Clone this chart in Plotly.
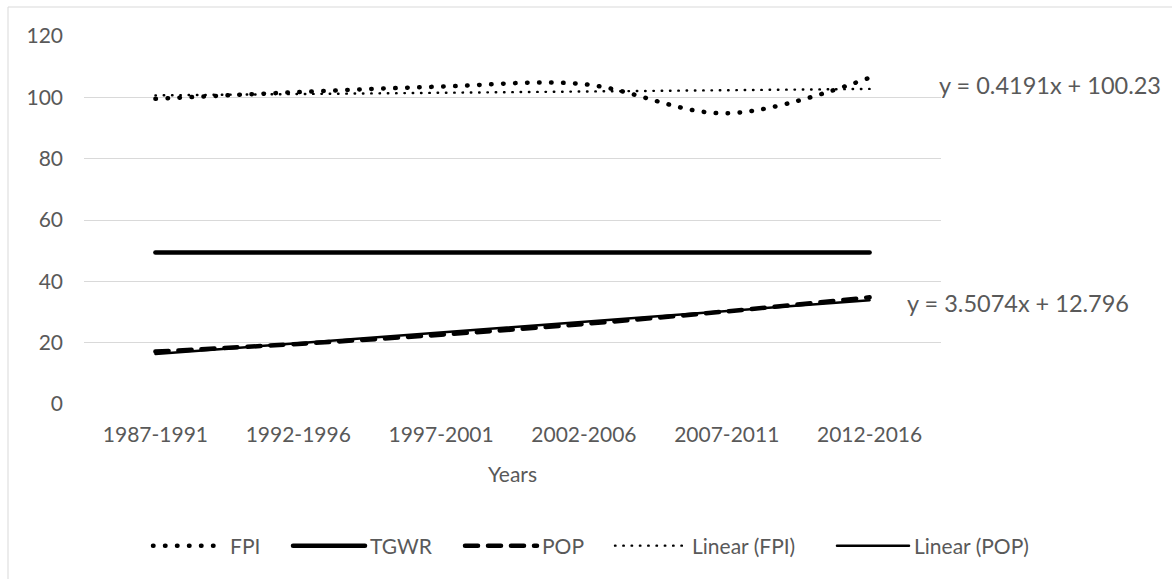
import plotly.graph_objects as go

categories = ["1987-1991", "1992-1996", "1997-2001", "2002-2006", "2007-2011", "2012-2016"]
fpi = [99.5, 101.7, 103.5, 104.3, 94.8, 106.4]
tgwr = [49.4, 49.4, 49.4, 49.4, 49.4, 49.4]
pop = [17.1, 19.6, 22.6, 26.1, 30.2, 34.8]
fpi_trend_coef = [0.4191, 100.23]
pop_trend_coef = [3.5074, 12.796]
y_ticks = [0, 20, 40, 60, 80, 100, 120]

FONT = "Lato"
GREY = "#595959"

idx = list(range(1, len(categories) + 1))
fpi_trend = [fpi_trend_coef[0] * i + fpi_trend_coef[1] for i in idx]
pop_trend = [pop_trend_coef[0] * i + pop_trend_coef[1] for i in idx]

fig = go.Figure()
fig.add_trace(go.Scatter(x=categories, y=fpi, name="FPI", mode="lines", line_shape="spline",
                         line=dict(color="black", width=4.5, dash="0.5px,11.5px"), legend="legend"))
fig.add_trace(go.Scatter(x=categories, y=tgwr, name="TGWR", mode="lines",
                         line=dict(color="black", width=4.5), legend="legend2"))
fig.add_trace(go.Scatter(x=categories, y=pop, name="POP", mode="lines", line_shape="spline",
                         line=dict(color="black", width=4.5, dash="13px,10px"), legend="legend3"))
fig.add_trace(go.Scatter(x=categories, y=fpi_trend, name="Linear (FPI)", mode="lines",
                         line=dict(color="black", width=2.4, dash="0.5px,7.8px"), legend="legend4"))
fig.add_trace(go.Scatter(x=categories, y=pop_trend, name="Linear (POP)", mode="lines",
                         line=dict(color="black", width=2.5), legend="legend5"))

L, R, T, B = 84, 941, 36, 404
W, H = 1172, 579
pw, ph = R - L, B - T

def px(x):
    return (x - L) / pw

def py(y):
    return (B - y) / ph

leg_y = py(546)
leg_common = dict(orientation="h", yanchor="middle", xanchor="left", y=leg_y,
                  font=dict(family=FONT, size=21, color=GREY), bgcolor="rgba(0,0,0,0)",
                  itemwidth=72)
legend_x = [148, 288, 460, 610, 832]

fig.update_layout(
    width=W, height=H,
    showlegend=True,
    margin=dict(l=L, r=W - R, t=T, b=H - B),
    paper_bgcolor="white", plot_bgcolor="white",
    font=dict(family=FONT, size=21, color=GREY),
    legend=dict(x=px(legend_x[0]), **leg_common),
    legend2=dict(x=px(legend_x[1]), **leg_common),
    legend3=dict(x=px(legend_x[2]), **leg_common),
    legend4=dict(x=px(legend_x[3]), **leg_common),
    legend5=dict(x=px(legend_x[4]), **leg_common),
    xaxis=dict(type="category", range=[-0.5, len(categories) - 0.5], showgrid=False,
               zeroline=False, showline=False, ticks="", ticklabelstandoff=16,
               tickfont=dict(family=FONT, size=21, color=GREY),
               title=dict(text="Years", standoff=22, font=dict(family=FONT, size=21, color=GREY))),
    yaxis=dict(range=[0, 120], tickvals=y_ticks, showgrid=True, gridcolor="#d9d9d9", gridwidth=1.3,
               zeroline=False, showline=False, ticks="", ticklabelstandoff=20,
               tickfont=dict(family=FONT, size=21, color=GREY)),
    shapes=[dict(type="rect", xref="paper", yref="paper",
                 x0=px(8), x1=px(1180), y0=py(590), y1=py(7),
                 line=dict(color="#d9d9d9", width=1), layer="below")],
    annotations=[
        dict(text="y = 0.4191x + 100.23", xref="paper", yref="paper", x=px(937), y=py(85),
             xanchor="left", yanchor="middle", showarrow=False,
             font=dict(family=FONT, size=23.5, color=GREY)),
        dict(text="y = 3.5074x + 12.796", xref="paper", yref="paper", x=px(905), y=py(303),
             xanchor="left", yanchor="middle", showarrow=False,
             font=dict(family=FONT, size=23.5, color=GREY)),
    ],
)

post = """
document.body.style.margin='0';
var gd = document.getElementById('{plot_id}');
function roundCaps(){
  gd.querySelectorAll('path.js-line').forEach(function(p){ p.style.strokeLinecap='round'; });
}
roundCaps();
if (gd.on) { gd.on('plotly_afterplot', roundCaps); }
"""

fig.write_html("out.html", post_script=post, config={"displayModeBar": False})
